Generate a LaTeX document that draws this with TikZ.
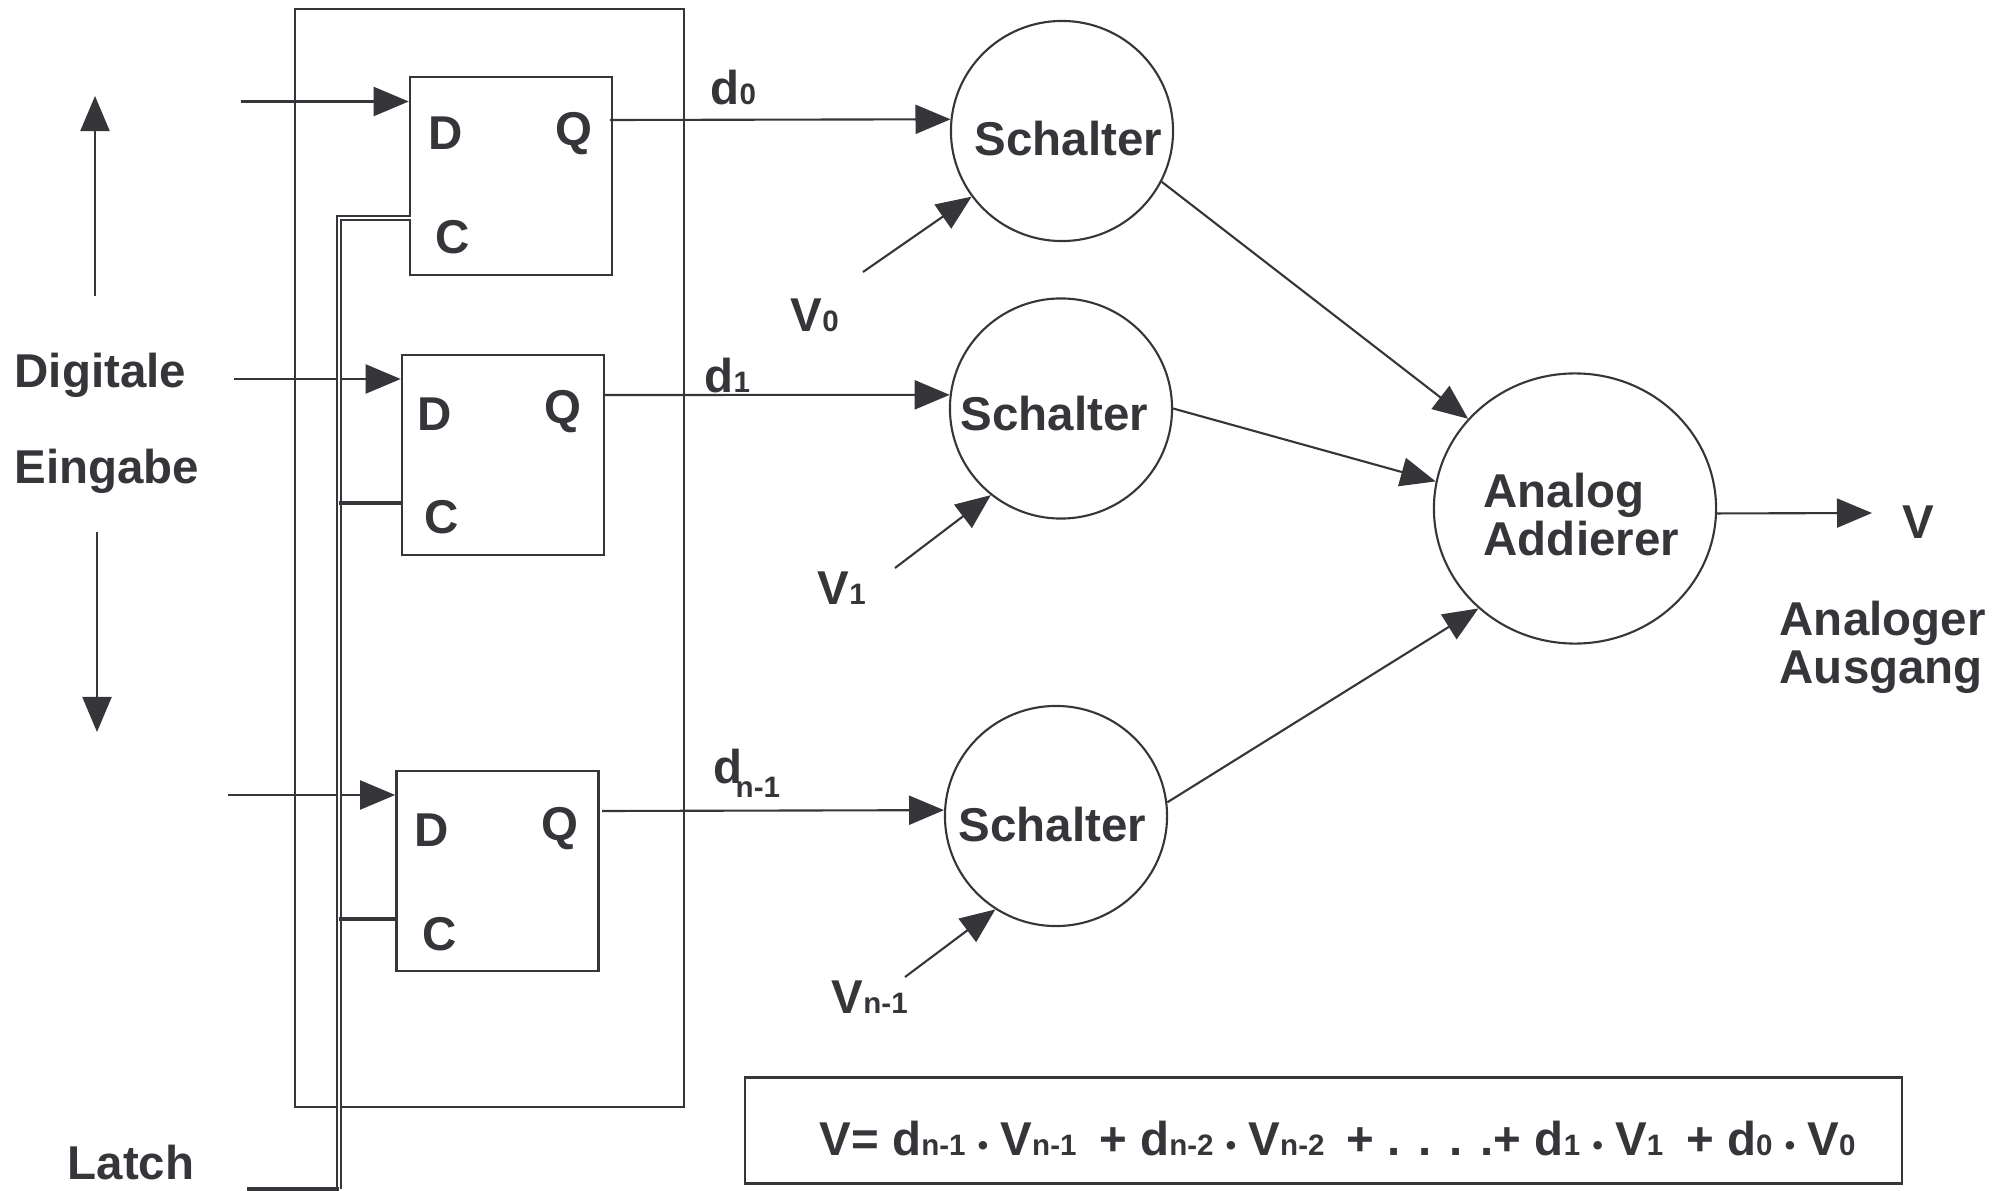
\documentclass[tikz,border=0pt]{standalone}
\usepackage{fontspec}
\setmainfont{Liberation Sans}
\usetikzlibrary{arrows.meta,shapes.geometric}
\definecolor{ink}{HTML}{36363A}
\newcommand{\subs}[1]{{\fontsize{8.4}{10}\selectfont #1}}
\newcommand{\mdot}{\hspace{3.5pt}\subs{•}\hspace{3.5pt}}
\tikzset{
  wire/.style={draw=ink, line width=.6pt},
  conn/.style={wire, ->},
  lab/.style={anchor=base west, inner sep=0pt, text=ink, font=\fontsize{13.5}{16}\selectfont\bfseries},
  ffbox/.style={draw=ink, line width=.7pt, minimum width=2.02cm, minimum height=2cm, inner sep=0pt},
  swnode/.style={draw=ink, line width=.6pt, ellipse, inner sep=0pt, minimum width=2.22cm, minimum height=2.2cm},
  busline/.style={draw=ink, line width=.65pt, double=white, double distance=.3pt},
  tapline/.style={draw=ink, line width=.9pt}
}
\begin{document}
\begin{tikzpicture}[x=.01cm, y=-.01cm, >={Triangle[length=.35cm, width=.29cm]}]
\useasboundingbox (0,0) rectangle (2011,1191);

\node[draw=ink, line width=.65pt, minimum width=3.89cm, minimum height=10.98cm] (latches) at (489.5,558) {};
\node[ffbox, minimum height=1.98cm] (ff1) at (511,176) {};
\node[ffbox] (ff2) at (503,455) {};
\node[ffbox] (ff3) at (497.5,871) {};

\node[swnode] (sw1) at (1062,131) {};
\node[swnode] (sw2) at (1061,408.5) {};
\node[swnode] (sw3) at (1056,816) {};
\node[swnode, minimum width=2.82cm, minimum height=2.7cm] (add) at (1575,508.5) {};
\node[draw=ink, line width=.65pt, minimum width=11.56cm, minimum height=1.06cm] (formelbox) at (1323.5,1130.5) {};

\coordinate (up0) at (95,296);
\coordinate (up1) at (95,96);
\coordinate (dn0) at (97,532);
\coordinate (dn1) at (97,732);
\coordinate (in1) at (241,101.5);
\coordinate (in2) at (234,379);
\coordinate (in3) at (228,795);
\coordinate (q1) at (610,120);
\coordinate (q2) at (604,395);
\coordinate (q3) at (602,811);
\coordinate (v0) at (863,272);
\coordinate (v1) at (895,568);
\coordinate (vn) at (905,977);
\coordinate (aus) at (1872,513);
\coordinate (clk) at (411,218);
\coordinate (bus) at (339,218);
\coordinate (busend) at (339,1189);
\coordinate (latchin) at (247,1189);
\coordinate (tap2) at (339,503);
\coordinate (tap3) at (339,919);

% inputs
\draw[conn] (up0)--(up1);
\draw[conn] (dn0)--(dn1);
\draw[conn] (in1)--(in1 -| ff1.west);
\draw[conn] (in2)--(in2 -| ff2.west);
\draw[conn] (in3)--(in3 -| ff3.west);

% latch line
\draw[busline] (clk)--(bus)--(busend);
\draw[tapline] (busend)--(latchin);
\draw[tapline] (tap2)--(tap2 -| ff2.west);
\draw[tapline] (tap3)--(tap3 -| ff3.west);

% outputs
\draw[conn] (q1)--(sw1.174);
\draw[conn] (q2)--(sw2.173);
\draw[conn] (q3)--(sw3.177);
\draw[conn] (v0)--(sw1.216);
\draw[conn] (v1)--(sw2.231);
\draw[conn] (vn)--(sw3.237);
\draw[conn] (sw1.-27)--(add.140);
\draw[conn] (sw2.0)--(add.169);
\draw[conn] (sw3.7)--(add.226);
\draw[conn] (add.-2)--(aus);

\node[lab] (digitale) at (14,387) {Digitale};
\node[lab] (eingabe) at (14,483) {Eingabe};
\node[lab] (latch) at (67,1179) {Latch};

\node[lab] (d1) at (428,150) {D};
\node[lab] (q1t) at (555,146) {Q};
\node[lab] (c1) at (435,254) {C};
\node[lab] (d2) at (417,430) {D};
\node[lab] (q2t) at (544,423) {Q};
\node[lab] (c2) at (424,534) {C};
\node[lab] (d3) at (414,846) {D};
\node[lab] (q3t) at (541,840) {Q};
\node[lab] (c3) at (422,950) {C};

\node[lab] (d0l) at (710,105) {d\subs{0}};
\node[lab] (d1l) at (704,393) {d\subs{1}};
\node[lab] (dnl) at (713,783) {d};
\node[lab, font=\fontsize{8.4}{10}\selectfont\bfseries] (dnsub) at (735,797) {n-1};

\node[lab] (v0l) at (790,331) {V\subs{0}};
\node[lab] (v1l) at (817,604) {V\subs{1}};
\node[lab] (vnl) at (831,1013) {V\subs{n-1}};

\node[lab] (sw1l) at (974,156) {Schalter};
\node[lab] (sw2l) at (960,431) {Schalter};
\node[lab] (sw3l) at (958,841) {Schalter};
\node[lab] (addl1) at (1483,508) {Analog};
\node[lab] (addl2) at (1483,555) {Addierer};
\node[lab] (vl) at (1902,538) {V};
\node[lab] (ausl1) at (1779,635) {Analoger};
\node[lab] (ausl2) at (1779,683) {Ausgang};

\node[lab] (formel) at (819,1155) {V= d\subs{n-1}\mdot V\subs{n-1}\hspace{6.5pt}+ d\subs{n-2}\mdot V\subs{n-2}\hspace{2.6pt} + . . . .\hspace{.2pt}+ d\subs{1}\mdot V\subs{1}\hspace{6.5pt}+ d\subs{0}\mdot V\subs{0}};
\end{tikzpicture}
\end{document}
